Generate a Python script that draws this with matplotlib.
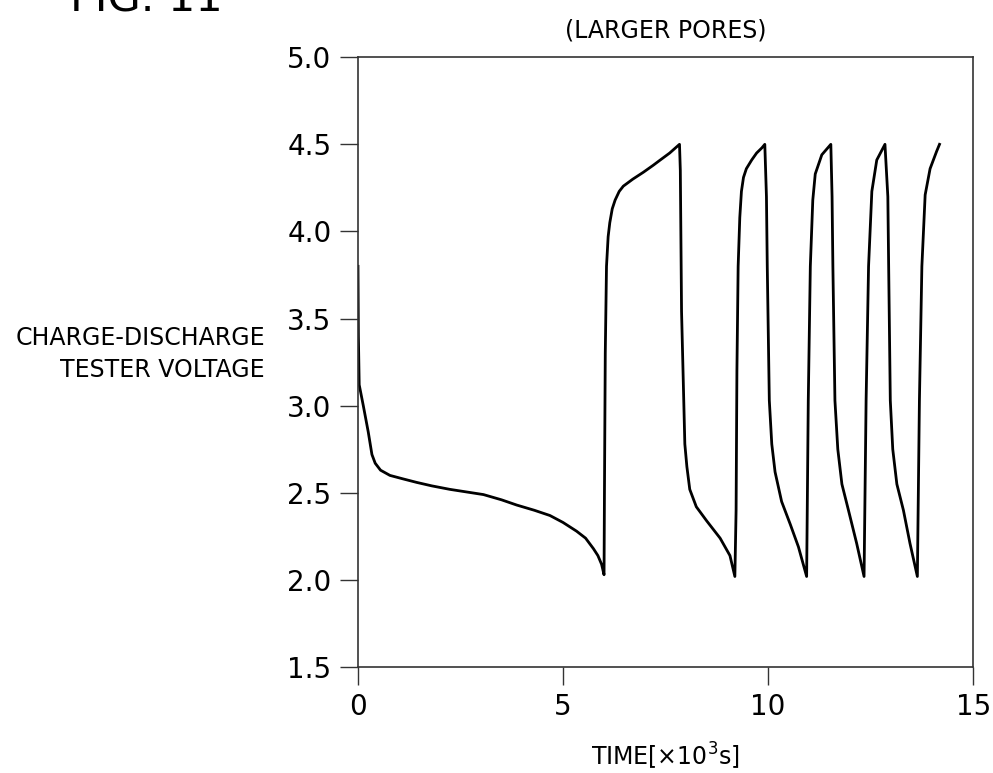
import matplotlib.pyplot as plt

# first discharge (time in 10^3 s, voltage in V)
t_first = [0.0, 0.01, 0.03, 0.13, 0.25, 0.34, 0.42, 0.55, 0.78, 1.1, 1.43, 1.8, 2.24, 2.65,
           3.06, 3.5, 3.87, 4.3, 4.68, 5.0, 5.33, 5.55, 5.74, 5.85, 5.94, 6.0]
v_first = [3.80, 3.40, 3.12, 3.00, 2.85, 2.72, 2.67, 2.63, 2.60, 2.58, 2.56, 2.54, 2.52, 2.505,
           2.49, 2.46, 2.43, 2.40, 2.37, 2.33, 2.28, 2.24, 2.18, 2.14, 2.09, 2.03]

# charge / discharge cycles
t_cycles = [6.01, 6.03, 6.06, 6.10, 6.14, 6.2, 6.27, 6.37, 6.47, 6.7, 6.96, 7.2, 7.37, 7.6, 7.84,
            7.86, 7.89, 7.97, 8.02, 8.09, 8.25, 8.5, 8.83, 9.07, 9.19,
            9.22, 9.24, 9.27, 9.31, 9.35, 9.4, 9.47, 9.6, 9.72, 9.85, 9.92,
            9.96, 9.98, 10.03, 10.09, 10.17, 10.33, 10.54, 10.74, 10.94,
            10.98, 11.03, 11.09, 11.15, 11.31, 11.53,
            11.56, 11.58, 11.63, 11.7, 11.8, 11.96, 12.16, 12.34,
            12.39, 12.45, 12.53, 12.65, 12.85,
            12.92, 12.94, 12.98, 13.04, 13.14, 13.3, 13.46, 13.64,
            13.69, 13.75, 13.83, 13.95, 14.11, 14.18]
v_cycles = [2.5, 3.3, 3.80, 3.97, 4.05, 4.13, 4.18, 4.23, 4.26, 4.30, 4.34, 4.38, 4.41, 4.45, 4.50,
            4.35, 3.54, 2.78, 2.65, 2.52, 2.42, 2.34, 2.24, 2.14, 2.02,
            2.4, 3.2, 3.8, 4.08, 4.23, 4.31, 4.36, 4.41, 4.45, 4.48, 4.50,
            4.20, 3.80, 3.03, 2.78, 2.62, 2.45, 2.32, 2.19, 2.02,
            3.03, 3.80, 4.18, 4.33, 4.44, 4.50,
            4.20, 3.80, 3.03, 2.75, 2.55, 2.40, 2.21, 2.02,
            3.03, 3.80, 4.23, 4.41, 4.50,
            4.20, 3.80, 3.03, 2.75, 2.55, 2.40, 2.21, 2.02,
            3.03, 3.80, 4.21, 4.36, 4.46, 4.50]

x_ticks = [0, 5, 10, 15]
y_ticks = [1.5, 2.0, 2.5, 3.0, 3.5, 4.0, 4.5, 5.0]

plt.rcParams['font.family'] = ['DejaVu Sans']

fig = plt.figure(figsize=(9.93, 7.73), dpi=100)
ax = fig.add_axes([0.3605, 0.137, 0.6195, 0.789])

ax.plot(t_first + t_cycles, v_first + v_cycles, color="black", linewidth=2.0)

ax.set_xlim(0, 15)
ax.set_ylim(1.5, 5.0)
ax.set_xticks(x_ticks)
ax.set_xticklabels([str(x) for x in x_ticks])
ax.set_yticks(y_ticks)
ax.set_yticklabels(["%.1f" % y for y in y_ticks])
ax.tick_params(direction="out", length=13, width=1.0, labelsize=20, pad=6, colors="#333333",
               labelcolor="black")

for s in ax.spines.values():
    s.set_linestyle((0, (1.5, 1)))
    s.set_linewidth(1.2)
    s.set_color("#333333")

ax.set_xlabel("TIME[×10$^3$s]", fontsize=17, labelpad=14)
fig.text(265 / 993, 1 - 338 / 773, "CHARGE-DISCHARGE", fontsize=17, ha="right", va="center")
fig.text(265 / 993, 1 - 370 / 773, "TESTER VOLTAGE", fontsize=17, ha="right", va="center")
ax.set_title("(LARGER PORES)", fontsize=17, pad=14)
fig.text(70 / 993, 1 - 12 / 773, "FIG. 11", fontsize=31, ha="left", va="baseline")

fig.savefig("out.png", dpi=100)
